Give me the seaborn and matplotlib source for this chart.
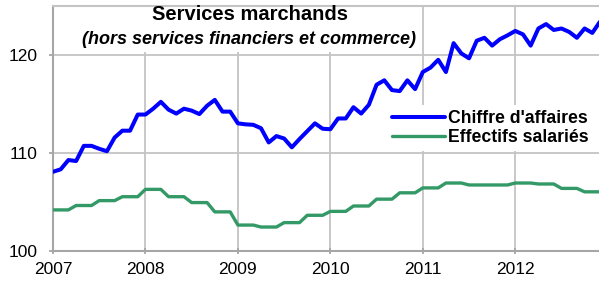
"""
Services marchands : chiffre d'affaires et effectifs salariés (2007-2012).
"""
import matplotlib
matplotlib.use("Agg")
import matplotlib.pyplot as plt
import numpy as np
import pandas as pd
import seaborn as sns
from matplotlib.patches import Rectangle

# Données mensuelles, de janvier 2007 à décembre 2012
annee_debut = 2007
chiffre_affaires = [
    108.05, 108.3, 109.25, 109.15, 110.7, 110.7, 110.4, 110.15, 111.55, 112.25, 112.25, 113.9,
    113.9, 114.5, 115.2, 114.4, 114.0, 114.5, 114.3, 113.95, 114.8, 115.4, 114.2, 114.2,
    113.0, 112.9, 112.85, 112.5, 111.05, 111.7, 111.45, 110.55, 111.4, 112.2, 113.0, 112.45,
    112.4, 113.5, 113.5, 114.65, 114.0, 114.9, 116.95, 117.4, 116.4, 116.3, 117.4, 116.5,
    118.25, 118.7, 119.5, 118.25, 121.2, 120.15, 119.65, 121.45, 121.75, 120.95, 121.6, 122.0,
    122.45, 122.1, 120.95, 122.7, 123.15, 122.55, 122.7, 122.35, 121.75, 122.7, 122.25, 123.4,
]
# effectifs : valeurs trimestrielles, reportées sur chaque mois du trimestre
effectifs_trimestriels = [
    104.15, 104.6, 105.1, 105.5, 106.25, 105.5, 104.9, 103.95,
    102.6, 102.4, 102.85, 103.6, 104.0, 104.55, 105.25, 105.9,
    106.4, 106.9, 106.7, 106.7, 106.9, 106.8, 106.35, 106.0,
]
annees = [2007, 2008, 2009, 2010, 2011, 2012]
graduations_y = [100, 110, 120]

series = ["Chiffre d'affaires", "Effectifs salariés"]
couleurs = {"Chiffre d'affaires": "#0000FF", "Effectifs salariés": "#339966"}
epaisseurs = {"Chiffre d'affaires": 2.9, "Effectifs salariés": 2.4}

mois = np.arange(len(chiffre_affaires))
df = pd.DataFrame({
    "date": annee_debut + mois / 12,
    series[0]: chiffre_affaires,
    series[1]: np.repeat(effectifs_trimestriels, 3),
})

sns.set_theme(style="white")
plt.rcParams["font.family"] = ["Liberation Sans", "DejaVu Sans"]
plt.rcParams["text.color"] = "black"

W, H = 599, 287
fig = plt.figure(figsize=(W / 100, H / 100), dpi=100)
ax = fig.add_axes([53 / W, 1 - 250.5 / H, 547 / W, 244.5 / H])

for s in series:
    sns.lineplot(data=df, x="date", y=s, color=couleurs[s], linewidth=epaisseurs[s],
                 label=s, ax=ax, zorder=3)

ax.set_xlim(annee_debut, annee_debut + (len(chiffre_affaires) - 1) / 12)
ax.set_ylim(100, 125)
ax.set_xticks(annees)
ax.set_xticklabels([str(a) for a in annees])
ax.set_yticks(graduations_y)
ax.set_xlabel("")
ax.set_ylabel("")

# Grille et axes
ax.set_axisbelow(True)
ax.grid(True, color="#c4c4c4", linewidth=1.3)
for cote in ["left", "bottom", "top"]:
    ax.spines[cote].set_color("#a6a6a6")
    ax.spines[cote].set_linewidth(1.5)
ax.spines["top"].set_color("#c4c4c4")
ax.spines["right"].set_visible(False)
ax.tick_params(axis="x", direction="inout", length=5, width=1.3, color="#a6a6a6",
               labelsize=12.5, pad=6, labelcolor="black", bottom=True)
ax.tick_params(axis="y", direction="out", length=3, width=1.3, color="#a6a6a6",
               labelsize=12.5, pad=8, labelcolor="black", left=True)

# Cadre blanc derrière le titre (masque la grille)
ax.add_patch(Rectangle((0.013, 0.81), 0.655, 0.19, transform=ax.transAxes,
                       facecolor="white", edgecolor="none", zorder=1))

fig.text(250 / W, 1 - 14 / H, "Services marchands", ha="center", va="center",
         fontsize=14.5, fontweight="bold", color="black")
fig.text(248.5 / W, 1 - 40 / H, "(hors services financiers et commerce)", ha="center",
         va="center", fontsize=13, fontweight="bold", fontstyle="italic", color="black")

# Légende
legende = ax.legend(loc="center left", bbox_to_anchor=(377.5 / W, 1 - 128 / H),
                    bbox_transform=fig.transFigure, frameon=True, facecolor="white",
                    edgecolor="none", framealpha=1, fancybox=False,
                    prop={"size": 12.7, "weight": "bold"}, handlelength=3.0,
                    handletextpad=0.2, borderpad=0.3, labelspacing=0.1)
legende.set_zorder(4)
for t in legende.get_texts():
    t.set_color("black")

fig.savefig("out.png", dpi=100)
